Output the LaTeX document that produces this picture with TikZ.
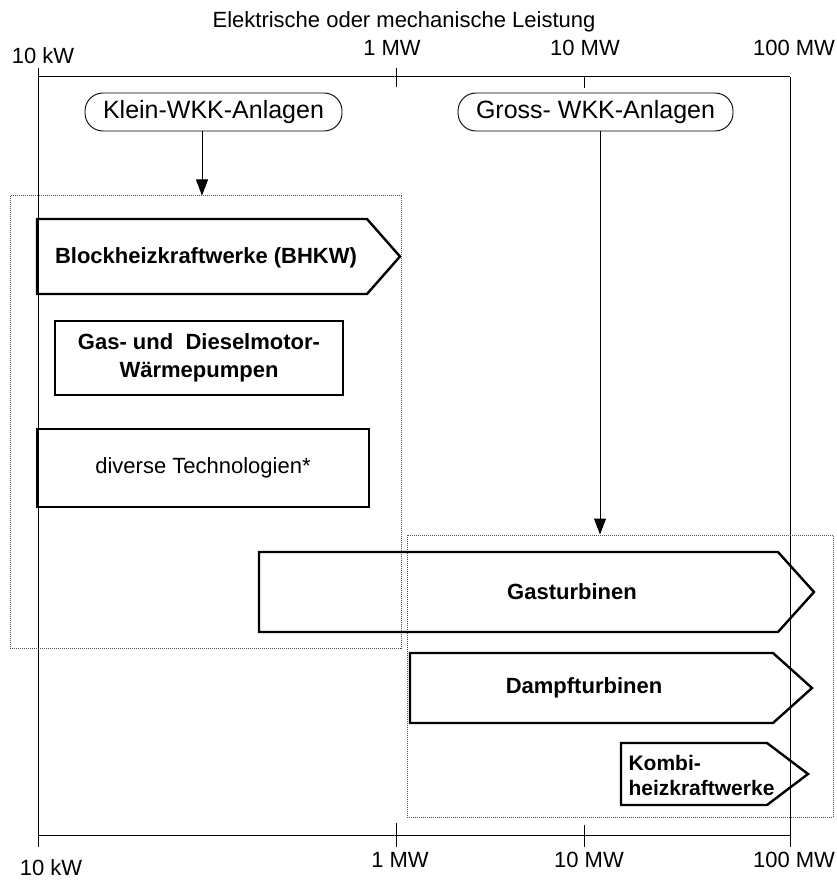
\documentclass[tikz,border=0pt]{standalone}
\usepackage{fontspec}
\setmainfont{Liberation Sans}
\usetikzlibrary{positioning}
\usetikzlibrary{arrows.meta}
\usetikzlibrary{calc}

\tikzset{
  achse/.style={line width=1pt},
  gruppe/.style={draw=black!70, densely dotted, line width=1pt, inner sep=0pt},
  oval/.style={draw, line width=0.9pt, rounded corners=18pt, inner sep=0pt,
    font=\fontsize{25}{28}\selectfont},
  kasten/.style={draw, line width=2.4pt, inner sep=0pt},
  fett/.style={font=\fontsize{22}{28}\selectfont\bfseries, align=center},
  normal/.style={font=\fontsize{22}{25}\selectfont},
  pfeil/.style={line width=1pt, -{Triangle[length=16pt,width=12pt]}},
}

\newcommand{\techpfeil}[5]{% x links, y oben, y unten, x knick, x spitze
  \draw[line width=2.4pt, line join=miter] (#1,#2) -- (#4,#2) -- (#5,{(#2+#3)/2}) -- (#4,#3) -- (#1,#3) -- cycle;
}

\begin{document}
\begin{tikzpicture}[x=1pt, y=-1pt]
  \useasboundingbox (0,0) rectangle (836,882);

  \def\xa{38};
  \def\xb{396};
  \def\xc{584};
  \def\xd{790};
  \def\yo{77};
  \def\yu{835};

  % Achsen
  \draw[achse] (\xa,\yo) -- (\xd,\yo);
  \draw[achse] (\xa,\yu) -- (\xd,\yu);
  \draw[achse] (\xa,68) -- (\xa,847);
  \draw[achse] (\xd,\yo) -- (\xd,847);
  \draw[achse] (\xb,68) -- (\xb,87);
  \draw[achse] (\xc,\yo) -- (\xc,88);
  \draw[achse] (\xb,823) -- (\xb,847);
  \draw[achse] (\xc,825) -- (\xc,847);

  \node[normal] (titel) at (404,22) {Elektrische oder mechanische Leistung};
  \foreach \x/\y/\t/\n in {43/56/10 kW/a, 392/48/1 MW/b, 585/48/10 MW/c, 794/48/100 MW/d} {
    \node[normal] (oben\n) at (\x,\y) {\t};
  }
  \foreach \x/\y/\t/\n in {51/868/10 kW/a, 400/860/1 MW/b, 589/860/10 MW/c, 794/860/100 MW/d} {
    \node[normal] (unten\n) at (\x,\y) {\t};
  }

  % Gruppen
  \node[gruppe, minimum width=391pt, minimum height=452pt] (kleinGrp) at (205.5,422) {};
  \node[gruppe, minimum width=426pt, minimum height=282pt] (grossGrp) at (620,676) {};

  \node[oval, minimum width=257pt, minimum height=38pt] (klein) at (213.5,112) {Klein-WKK-Anlagen};
  \node[oval, minimum width=275pt, minimum height=38pt] (gross) at (595.5,112) {Gross- WKK-Anlagen};

  \coordinate (kp) at ($(klein.south)+(-11.5,0)$);
  \coordinate (gp) at ($(gross.south)+(4.5,0)$);
  \draw[pfeil] (kp) -- (kp |- kleinGrp.north);
  \draw[pfeil] (gp) -- (gp |- grossGrp.north);

  % Technologien
  \techpfeil{37}{219}{294}{367}{400}
  \node[fett] (bhkw) at (206,258) {Blockheizkraftwerke (BHKW)};

  \node[kasten, fett, minimum width=288pt, minimum height=74pt] (wp) at (199,358)
    {Gas- und\ \ Dieselmotor-\\Wärmepumpen};

  \node[kasten, normal, minimum width=332pt, minimum height=78pt] (div) at (203,468)
    {diverse Technologien*};

  \techpfeil{259}{552}{632}{778}{814}
  \node[fett] (gas) at (572,592) {Gasturbinen};

  \techpfeil{410}{653}{723}{773}{812}
  \node[fett] (dampf) at (584,688) {Dampfturbinen};

  \techpfeil{621}{743}{805}{767}{808}
  \node[fett, align=left, anchor=west, font=\fontsize{21}{25}\selectfont\bfseries] (kombi) at (625,775) {Kombi-\\heizkraftwerke};

\end{tikzpicture}
\end{document}
